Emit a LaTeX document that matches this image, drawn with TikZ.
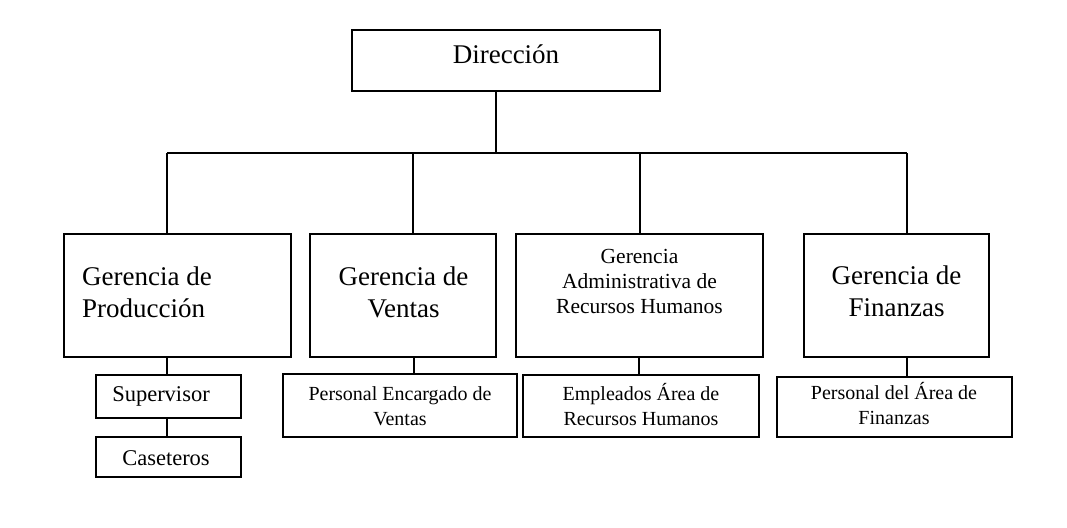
\documentclass[tikz,border=0pt]{standalone}
\usepackage{fontspec}
\setmainfont{Liberation Serif}
\begin{document}
\begin{tikzpicture}[x=1pt,y=-1pt,
  boxline/.style={draw=black,line width=2.6pt},
  conn/.style={draw=black,line width=2.6pt},
  txt/.style={inner sep=0pt,align=center},
  big/.style={font=\fontsize{27}{32}\selectfont},
  mid/.style={font=\fontsize{21.5}{25}\selectfont},
  sub/.style={font=\fontsize{22.5}{26}\selectfont},
  small/.style={font=\fontsize{20}{24.5}\selectfont}]
\useasboundingbox (0,0) rectangle (1067,527);
% boxes
\path[boxline] (352,30) rectangle (660,91);
\coordinate (dirS) at (496,91);
\node[txt,big,anchor=base] (dir) at (506,63.3) {Dirección};

\path[boxline] (64,234) rectangle (291,357);
\node[txt,big,align=left,anchor=base west] (gp) at (82,317) {Gerencia de\\Producción};

\path[boxline] (310,234) rectangle (496,357);
\node[txt,big,anchor=base] (gv) at (403.5,317.7) {Gerencia de\\Ventas};

\path[boxline] (516,234) rectangle (763,357);
\node[txt,mid,anchor=base] (ga) at (639.5,313) {Gerencia\\Administrativa de\\Recursos Humanos};

\path[boxline] (804,234) rectangle (989,357);
\node[txt,big,anchor=base] (gf) at (896.5,316.7) {Gerencia de\\Finanzas};

\path[boxline] (96,375) rectangle (241,418);
\node[txt,sub,anchor=base] (sup) at (161,401.7) {Supervisor};
\path[boxline] (96,437) rectangle (241,477);
\node[txt,sub,anchor=base] (cas) at (166,465) {Caseteros};

\path[boxline] (283,374) rectangle (517,437);
\node[txt,small,anchor=base] (pv) at (400,425) {Personal Encargado de\\Ventas};

\path[boxline] (523,375) rectangle (759,437);
\node[txt,small,anchor=base] (ea) at (641,425) {Empleados Área de\\Recursos Humanos};

\path[boxline] (777,377) rectangle (1012,437);
\node[txt,small,anchor=base] (pf) at (894,424) {Personal del Área de\\Finanzas};

% connectors
\coordinate (bar) at (496,153);
\coordinate (c1) at (167,153);
\coordinate (c2) at (413,153);
\coordinate (c3) at (640,153);
\coordinate (c4) at (907,153);
\draw[conn] (dirS) -- (bar);
\draw[conn] (c1) -- (c4);
\coordinate (b1) at (167,234);
\coordinate (b2) at (413,234);
\coordinate (b3) at (640,234);
\coordinate (b4) at (907,234);
\draw[conn] (c1) -- (b1);
\draw[conn] (c2) -- (b2);
\draw[conn] (c3) -- (b3);
\draw[conn] (c4) -- (b4);
\coordinate (p1) at (167,357);
\coordinate (s1) at (167,375);
\coordinate (s2) at (167,418);
\coordinate (k1) at (167,437);
\draw[conn] (p1) -- (s1);
\draw[conn] (s2) -- (k1);
\coordinate (p2) at (414,357);
\coordinate (q2) at (414,374);
\draw[conn] (p2) -- (q2);
\coordinate (p3) at (639,357);
\coordinate (q3) at (639,375);
\draw[conn] (p3) -- (q3);
\coordinate (p4) at (907,357);
\coordinate (q4) at (907,377);
\draw[conn] (p4) -- (q4);
\end{tikzpicture}
\end{document}
